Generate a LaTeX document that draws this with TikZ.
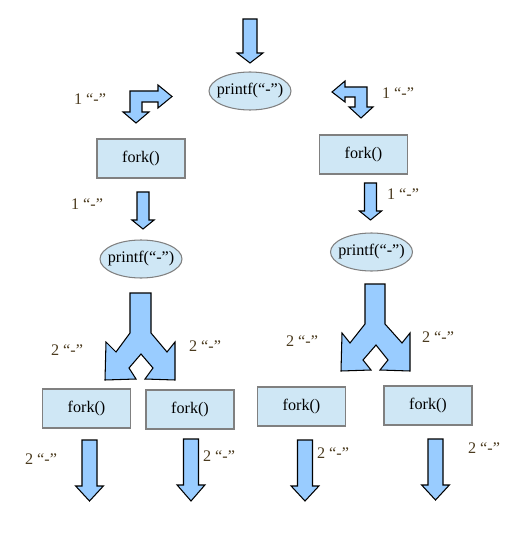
\documentclass[tikz,border=0pt]{standalone}
\usepackage{fontspec}
\setmainfont{Liberation Serif}
\usetikzlibrary{shapes.geometric}
\definecolor{boxfill}{HTML}{CFE7F5}
\definecolor{boxline}{HTML}{808080}
\definecolor{arrowfill}{HTML}{99CCFF}
\definecolor{countcol}{HTML}{4A3A1E}

% block arrow pointing down: x, top, neck, tip, shaft half width
\newcommand{\blockdown}[5]{%
  \draw[blockarrow] ({#1-#5},#2) -- ({#1+#5},#2) -- ({#1+#5},#3)
    -- ({#1+1.85*#5},#3) -- (#1,#4) -- ({#1-1.85*#5},#3) -- ({#1-#5},#3) -- cycle;}

\begin{document}
\begin{tikzpicture}[
  x=0.02cm, y=-0.02cm,
  forkbox/.style={
    rectangle, minimum width=1.76cm, minimum height=0.78cm,
    draw=boxline, line width=0.6pt, fill=boxfill,
    font=\fontsize{9.2}{11}\selectfont
  },
  printfnode/.style={
    ellipse, minimum width=1.64cm, minimum height=0.76cm,
    inner xsep=-0.1cm, inner ysep=0pt,
    draw=boxline, line width=0.6pt, fill=boxfill,
    font=\fontsize{9.2}{11}\selectfont
  },
  count/.style={font=\fontsize{9.2}{11}\selectfont, text=countcol, inner sep=1pt},
  blockarrow/.style={draw=black, line width=0.6pt, fill=arrowfill, line join=miter}
]
\useasboundingbox (0,0) rectangle (524,533);

% Nodes
\node[printfnode] (p0) at (250,91) {printf(“-”)};
\node[forkbox] (f1) at (141,158.5) {fork()};
\node[forkbox] (f2) at (363.5,154.5) {fork()};
\node[printfnode] (p1) at (141,259) {printf(“-”)};
\node[printfnode] (p2) at (371.5,252) {printf(“-”)};
\node[forkbox] (f11) at (86.5,408.5) {fork()};
\node[forkbox] (f12) at (190,409.5) {fork()};
\node[forkbox] (f21) at (301.5,406.5) {fork()};
\node[forkbox] (f22) at (428,405.5) {fork()};

% Arrows
\blockdown{250}{19}{53}{63}{7}
\blockdown{143}{192}{220}{229}{6}
\blockdown{370.5}{183}{211}{220}{6}
\foreach \ax/\at/\an/\ap in {89.5/440/486/501, 191/439/485/501, 305/440/486/501, 435.5/439/485/500}
  \blockdown{\ax}{\at}{\an}{\ap}{7.5};

% Bent arrows
\draw[blockarrow] (130,91) -- (158,91) -- (158,85) -- (172,96.5) -- (158,108)
  -- (158,102) -- (142,102) -- (142,112) -- (149,112) -- (136,123)
  -- (123,112) -- (130,112) -- cycle;
\draw[blockarrow] (367,87) -- (367,107) -- (373,107) -- (361,118) -- (349,107)
  -- (355,107) -- (355,97) -- (345,97) -- (345,102) -- (332,92) -- (345,81)
  -- (345,87) -- cycle;

% Split arrows
\draw[blockarrow] (130,293) -- (130,333) -- (116,352) -- (106,342) -- (105,380)
  -- (136,379) -- (129,368) -- (141,354) -- (153,368) -- (145,379) -- (175,380)
  -- (175,342) -- (167,352) -- (151,333) -- (151,293) -- cycle;
\draw[blockarrow] (365,284) -- (365,324) -- (350,343) -- (342,333) -- (341,371)
  -- (371,370) -- (363,360) -- (376,345) -- (388,360) -- (380,370) -- (410,371)
  -- (410,333) -- (402,343) -- (385,324) -- (385,284) -- cycle;

% Counts
\node[count] (c1) at (90,99) {1 “-”};
\node[count] (c2) at (398,93) {1 “-”};
\node[count] (c3) at (87,204) {1 “-”};
\node[count] (c4) at (403,194) {1 “-”};
\node[count] (c5) at (67,350) {2 “-”};
\node[count] (c6) at (205,346) {2 “-”};
\node[count] (c7) at (302,341) {2 “-”};
\node[count] (c8) at (438,337) {2 “-”};
\node[count] (c9) at (41,459) {2 “-”};
\node[count] (c10) at (219,456) {2 “-”};
\node[count] (c11) at (333,453) {2 “-”};
\node[count] (c12) at (484,448) {2 “-”};

\end{tikzpicture}
\end{document}
